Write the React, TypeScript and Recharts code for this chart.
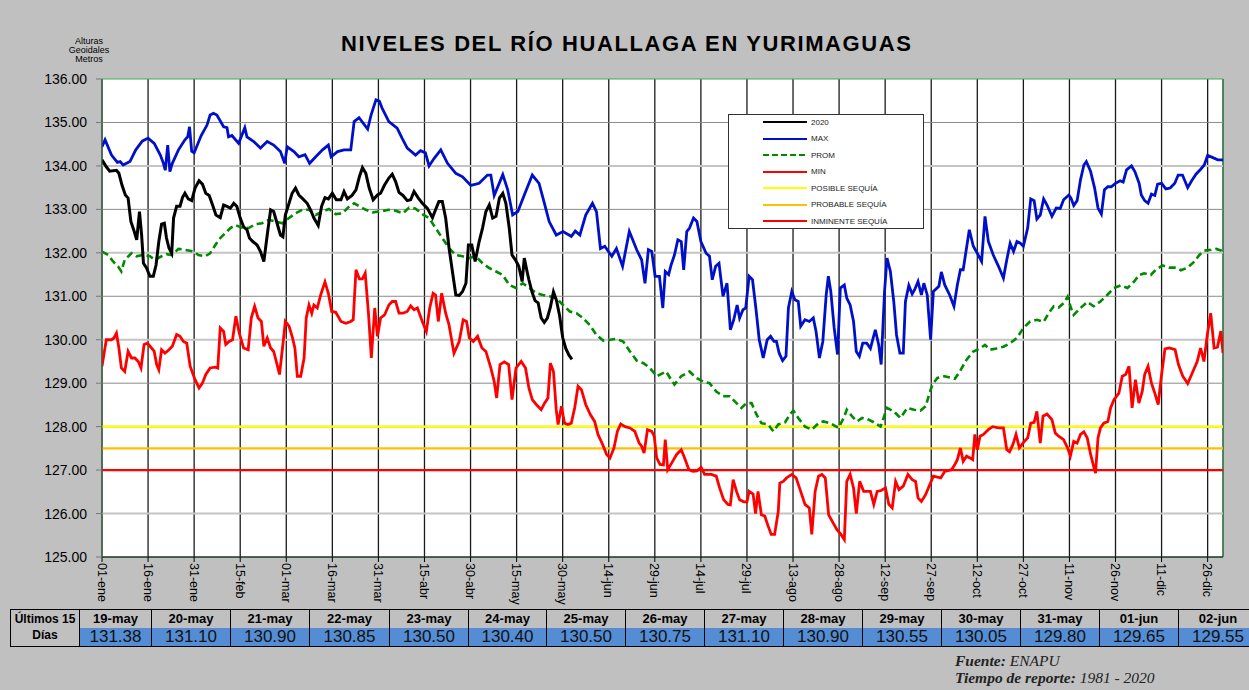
import React from 'react';
import { LineChart, Line, XAxis, YAxis, CartesianGrid, ReferenceLine, ReferenceArea, Legend } from 'recharts';

// eje X: dia del año 2020 (0 = 01-ene)
const X_TICKS = [0, 15, 30, 45, 60, 75, 90, 105, 120, 135, 150, 165, 180, 195, 210, 225, 240, 255, 270, 285, 300, 315, 330, 345, 360];
const X_LABELS = ['01-ene', '16-ene', '31-ene', '15-feb', '01-mar', '16-mar', '31-mar', '15-abr', '30-abr', '15-may', '30-may', '14-jun', '29-jun', '14-jul', '29-jul', '13-ago', '28-ago', '12-sep', '27-sep', '12-oct', '27-oct', '11-nov', '26-nov', '11-dic', '26-dic'];
const Y_TICKS = [125, 126, 127, 128, 129, 130, 131, 132, 133, 134, 135, 136];

// tabla de los ultimos 15 dias
const TABLE_DATES = ['19-may', '20-may', '21-may', '22-may', '23-may', '24-may', '25-may', '26-may', '27-may', '28-may', '29-may', '30-may', '31-may', '01-jun', '02-jun'];
const TABLE_VALUES = [131.38, 131.10, 130.90, 130.85, 130.50, 130.40, 130.50, 130.75, 131.10, 130.90, 130.55, 130.05, 129.80, 129.65, 129.55];
const TABLE_FIRST_DAY = 139;

const THRESHOLDS = [128.0, 127.5, 127.0];

const Y2020: [number, number][] = [
  [0, 134.14], [1.4, 133.98], [2.5, 133.88], [4.7, 133.9], [5.5, 133.83], [6.5, 133.56], [7.6, 133.33], [8.5, 133.26], [9.4, 132.72], [10.5, 132.49],
  [11.3, 132.3], [12.2, 132.95], [12.9, 132.41], [13.5, 131.76], [14.5, 131.65], [15.6, 131.46], [16.7, 131.46], [17.6, 131.72], [18.5, 132.26], [19.4, 132.66],
  [20.3, 132.68], [21.0, 132.34], [21.8, 132.11], [22.7, 131.99], [23.3, 132.8], [24.3, 133.07], [25.4, 133.07], [26.2, 133.27], [27.0, 133.37], [28.1, 133.24],
  [29.2, 133.2], [30.3, 133.49], [31.6, 133.66], [32.7, 133.58], [33.8, 133.37], [34.9, 133.32], [36.0, 133.1], [37.1, 132.87], [38.5, 132.81], [39.6, 133.1],
  [40.7, 133.07], [41.8, 133.03], [42.9, 133.14], [43.9, 133.07], [45.0, 132.8], [46.1, 132.6], [47.2, 132.53], [48.0, 132.34], [49.1, 132.26], [50.5, 132.18],
  [51.6, 132.03], [52.7, 131.8], [53.8, 132.41], [54.9, 132.99], [55.9, 132.95], [57.0, 132.68], [58.1, 132.41], [58.9, 132.37], [59.7, 132.87], [60.9, 133.14],
  [61.9, 133.37], [63.0, 133.49], [64.1, 133.33], [65.4, 133.24], [66.8, 133.14], [67.9, 132.99], [69.0, 132.8], [70.4, 132.63], [71.5, 133.07], [72.6, 133.27],
  [73.7, 133.24], [75.0, 133.37], [76.3, 133.22], [77.8, 133.22], [78.8, 133.41], [79.9, 133.24], [81.4, 133.32], [82.7, 133.45], [83.8, 133.75], [84.8, 133.96],
  [85.9, 133.83], [87.0, 133.49], [88.3, 133.22], [89.7, 133.33], [90.7, 133.37], [92.0, 133.56], [93.4, 133.72], [94.5, 133.81], [95.6, 133.64], [96.7, 133.39],
  [98.0, 133.32], [99.4, 133.2], [100.5, 133.22], [101.6, 133.41], [103.0, 133.26], [104.3, 133.14], [105.9, 133.03], [107.6, 132.81], [108.6, 132.99], [109.7, 133.18],
  [110.8, 133.18], [111.9, 132.8], [113.0, 132.11], [114.1, 131.57], [115.2, 131.03], [116.3, 131.02], [117.4, 131.11], [118.5, 131.3], [119.3, 132.18], [120.4, 132.18],
  [121.5, 131.8], [122.8, 132.26], [123.9, 132.57], [125.0, 132.95], [126.1, 133.1], [127.2, 132.8], [128.3, 132.84], [129.4, 133.26], [130.5, 133.37], [131.5, 133.14],
  [132.6, 132.57], [133.5, 131.95], [134.6, 131.84], [135.7, 131.69], [136.8, 131.34], [137.5, 131.88], [138.4, 131.57],
];

const MAX: [number, number][] = [
  [0, 134.44], [1.0, 134.6], [3.1, 134.25], [5.0, 134.08], [5.9, 134.1], [6.9, 134.02], [9.1, 134.1], [11.0, 134.37], [13.1, 134.57], [15.0, 134.64],
  [17.0, 134.52], [19.0, 134.25], [20.0, 134.06], [20.6, 133.9], [21.4, 134.48], [22.1, 133.87], [22.9, 134.06], [24.9, 134.37], [27.0, 134.6], [27.9, 134.67],
  [28.5, 134.9], [29.2, 134.34], [30.0, 134.3], [32.3, 134.7], [34.2, 134.94], [35.2, 135.17], [36.3, 135.21], [37.4, 135.17], [39.6, 134.9], [40.7, 134.88],
  [41.2, 134.67], [42.3, 134.7], [44.5, 134.52], [46.5, 134.88], [47.2, 134.67], [49.4, 134.56], [51.6, 134.41], [53.8, 134.56], [55.9, 134.48], [58.1, 134.33],
  [59.5, 134.06], [60.3, 134.44], [62.5, 134.33], [64.1, 134.21], [66.1, 134.26], [67.6, 134.06], [69.6, 134.21], [71.8, 134.37], [73.7, 134.48], [74.6, 134.21],
  [76.7, 134.33], [78.8, 134.37], [81.0, 134.37], [82.1, 135.02], [83.7, 135.11], [86.5, 134.85], [87.6, 135.17], [89.2, 135.52], [90.3, 135.49], [91.2, 135.33],
  [93.4, 135.02], [96.1, 134.87], [97.7, 134.64], [99.4, 134.41], [102.1, 134.25], [103.7, 134.35], [105.3, 134.3], [106.5, 134.0], [108.1, 134.17], [110.3, 134.37],
  [112.5, 134.06], [115.2, 133.83], [117.4, 133.75], [120.1, 133.55], [122.8, 133.6], [125.5, 133.79], [126.6, 133.79], [127.7, 133.32], [130.5, 133.8], [132.1, 133.45],
  [133.7, 132.87], [135.4, 132.95], [137.5, 133.33], [140.1, 133.79], [142.3, 133.6], [143.9, 133.18], [145.6, 132.72], [147.9, 132.41], [150.1, 132.49], [152.8, 132.38],
  [154.1, 132.5], [155.6, 132.41], [157.5, 132.87], [159.7, 133.14], [161.0, 132.95], [162.3, 132.1], [163.7, 132.15], [166.0, 131.92], [167.5, 132.1], [169.5, 131.69],
  [171.7, 132.49], [174.1, 132.07], [175.7, 131.84], [176.8, 131.3], [177.9, 132.07], [179.0, 132.03], [180.1, 131.46], [181.5, 131.46], [182.6, 130.73], [183.4, 131.57],
  [184.5, 131.5], [185.3, 131.72], [186.4, 131.95], [187.5, 132.3], [188.6, 132.26], [189.4, 131.61], [190.4, 132.49], [191.3, 132.57], [192.6, 132.8], [193.7, 132.72],
  [195.0, 132.26], [196.7, 131.99], [197.8, 131.92], [198.7, 131.38], [199.8, 131.69], [200.9, 131.76], [202.2, 131.0], [203.5, 131.3], [204.6, 130.23], [205.7, 130.46],
  [206.8, 130.8], [207.6, 130.5], [208.7, 130.69], [209.6, 130.73], [210.7, 131.46], [211.8, 131.38], [212.9, 130.73], [214.0, 130.0], [215.3, 129.58], [216.6, 130.0],
  [217.7, 130.08], [218.8, 129.96], [219.6, 129.96], [220.5, 129.69], [221.6, 129.52], [222.7, 129.62], [223.5, 130.73], [224.6, 131.11], [225.6, 130.92], [226.7, 130.88],
  [227.5, 130.31], [228.9, 130.46], [230.3, 130.42], [231.6, 130.5], [232.5, 130.19], [233.6, 129.58], [234.7, 129.96], [235.8, 131.03], [236.5, 131.46], [237.3, 131.11],
  [238.4, 130.27], [239.5, 129.66], [240.4, 131.19], [241.7, 131.26], [242.5, 130.96], [243.6, 130.8], [244.7, 130.42], [245.6, 129.73], [246.6, 129.62], [247.7, 129.92],
  [249.0, 129.92], [250.2, 129.8], [251.8, 130.23], [252.9, 129.88], [253.7, 129.43], [254.8, 131.11], [255.6, 131.88], [256.7, 131.57], [257.8, 130.88], [258.7, 130.11],
  [259.8, 129.69], [260.9, 129.69], [261.6, 130.88], [262.7, 131.25], [263.8, 131.05], [264.6, 131.15], [265.7, 131.34], [266.8, 131.03], [267.6, 131.3], [268.7, 131.03],
  [269.8, 130.0], [270.7, 131.11], [272.5, 131.23], [273.3, 131.56], [274.4, 131.26], [276.0, 131.03], [277.4, 130.77], [278.5, 131.26], [279.5, 131.61], [280.4, 131.61],
  [282.4, 132.53], [283.7, 132.15], [285.0, 131.99], [286.4, 131.8], [287.5, 132.84], [288.6, 132.26], [290.2, 131.95], [291.9, 131.69], [293.5, 131.42], [294.6, 131.84],
  [295.7, 132.22], [296.8, 132.03], [297.9, 132.26], [299.0, 132.22], [300.0, 132.15], [301.4, 132.57], [302.4, 133.24], [303.5, 133.2], [304.4, 132.78], [305.5, 132.87],
  [306.6, 133.24], [307.7, 133.1], [309.3, 132.84], [310.7, 133.03], [312.0, 133.02], [313.1, 133.22], [314.8, 133.33], [315.5, 133.26], [316.4, 133.09], [317.5, 133.2],
  [318.6, 133.68], [319.7, 134.02], [320.5, 134.1], [321.9, 133.87], [323.2, 133.49], [324.3, 133.03], [325.4, 132.89], [326.4, 133.45], [327.5, 133.52], [328.6, 133.52],
  [330.0, 133.6], [331.5, 133.66], [332.5, 133.63], [333.6, 133.91], [335.2, 134.0], [336.3, 133.87], [337.7, 133.6], [338.4, 133.33], [339.5, 133.2], [340.6, 133.14],
  [341.7, 133.35], [342.8, 133.32], [343.7, 133.58], [345.0, 133.6], [346.4, 133.47], [347.8, 133.49], [349.3, 133.6], [350.4, 133.79], [351.8, 133.79], [353.5, 133.5],
  [354.8, 133.66], [356.2, 133.81], [357.8, 133.93], [358.9, 134.02], [360.0, 134.24], [361.7, 134.19], [363.3, 134.14], [364.9, 134.14], [365.0, 134.11],
];

const PROM: [number, number][] = [
  [0, 132.03], [2.0, 131.95], [3.6, 131.8], [5.2, 131.69], [6.3, 131.57], [7.4, 131.84], [9.6, 131.99], [11.2, 131.92], [13.4, 131.95], [15.6, 131.92],
  [17.2, 131.84], [19.4, 131.92], [21.0, 131.97], [22.7, 131.95], [24.9, 132.09], [27.0, 132.07], [29.8, 132.03], [31.4, 131.95], [33.6, 131.92], [35.2, 131.99],
  [36.9, 132.18], [38.5, 132.34], [40.1, 132.45], [41.8, 132.57], [43.4, 132.64], [45.6, 132.58], [47.8, 132.57], [49.9, 132.66], [52.1, 132.68], [54.3, 132.76],
  [56.5, 132.72], [58.7, 132.68], [60.9, 132.8], [63.0, 132.91], [65.2, 132.99], [67.4, 132.99], [69.6, 132.87], [71.8, 132.95], [73.9, 133.01], [76.1, 132.89],
  [78.3, 132.91], [80.5, 133.07], [82.1, 133.14], [83.8, 133.07], [85.9, 132.99], [88.1, 132.93], [90.3, 132.95], [93.4, 132.99], [95.6, 132.97], [98.0, 132.91],
  [100.0, 133.04], [102.0, 133.02], [104.3, 132.89], [106.5, 132.8], [108.6, 132.57], [110.8, 132.34], [113.0, 132.11], [115.2, 131.95], [117.4, 131.92], [119.6, 131.88],
  [121.7, 131.92], [123.9, 131.76], [126.1, 131.65], [128.3, 131.57], [130.5, 131.49], [132.6, 131.26], [134.8, 131.19], [137.0, 131.3], [139.2, 131.19], [141.4, 131.07],
  [143.5, 131.03], [145.7, 131.0], [147.9, 130.96], [150.1, 130.8], [152.3, 130.65], [154.5, 130.61], [156.6, 130.5], [158.8, 130.34], [161.0, 130.11], [163.2, 129.98],
  [165.4, 130.0], [167.5, 130.02], [169.7, 129.96], [171.9, 129.73], [174.1, 129.52], [176.3, 129.46], [178.4, 129.35], [180.6, 129.16], [182.0, 129.21], [183.7, 129.27],
  [185.3, 129.08], [186.4, 128.97], [188.6, 129.16], [191.3, 129.27], [193.5, 129.12], [195.7, 129.04], [197.8, 129.0], [200.0, 128.81], [202.2, 128.7], [204.4, 128.7],
  [206.6, 128.54], [208.2, 128.43], [209.8, 128.54], [211.5, 128.54], [213.1, 128.28], [214.7, 128.08], [216.9, 128.05], [218.6, 127.89], [220.2, 128.05], [222.4, 128.1],
  [224.0, 128.28], [225.1, 128.37], [226.7, 128.2], [228.9, 128.0], [231.1, 127.93], [233.3, 128.08], [234.9, 128.12], [237.1, 128.08], [239.8, 127.97], [241.5, 128.2],
  [242.5, 128.39], [244.2, 128.24], [245.8, 128.12], [247.5, 128.2], [249.1, 128.18], [251.3, 128.1], [253.5, 128.0], [255.6, 128.43], [257.8, 128.35], [260.0, 128.2],
  [262.2, 128.43], [264.4, 128.39], [266.5, 128.37], [268.2, 128.47], [269.3, 128.74], [270.4, 128.97], [272.0, 129.12], [274.4, 129.16], [277.7, 129.1], [279.3, 129.27],
  [281.5, 129.54], [283.7, 129.73], [285.9, 129.8], [287.5, 129.88], [289.1, 129.77], [291.3, 129.8], [293.5, 129.84], [295.7, 129.92], [297.9, 130.04], [300.0, 130.27],
  [302.2, 130.42], [304.4, 130.46], [306.6, 130.41], [308.2, 130.61], [309.9, 130.77], [311.5, 130.74], [313.1, 130.84], [314.4, 130.99], [315.5, 130.73], [316.4, 130.57],
  [318.6, 130.73], [320.8, 130.87], [322.9, 130.77], [325.1, 130.88], [327.3, 131.03], [329.5, 131.19], [331.7, 131.25], [333.9, 131.19], [336.1, 131.34], [337.7, 131.49],
  [339.3, 131.53], [341.5, 131.49], [343.1, 131.61], [345.3, 131.71], [347.5, 131.66], [349.7, 131.66], [351.3, 131.6], [353.5, 131.66], [355.7, 131.8], [357.3, 131.95],
  [358.9, 132.05], [361.1, 132.07], [362.8, 132.09], [364.4, 132.05], [365.0, 132.0],
];

const MIN: [number, number][] = [
  [0, 129.39], [1.4, 130.0], [3.1, 130.0], [3.9, 130.04], [4.7, 130.15], [5.5, 129.81], [6.3, 129.35], [7.4, 129.27], [8.5, 129.73], [9.6, 129.58],
  [10.7, 129.58], [11.8, 129.5], [12.7, 129.35], [13.7, 129.89], [14.8, 129.92], [16.1, 129.81], [17.0, 129.73], [17.8, 129.43], [18.5, 129.31], [19.4, 129.77],
  [20.5, 129.69], [21.8, 129.77], [22.9, 129.85], [24.3, 130.12], [25.4, 130.08], [26.5, 129.96], [27.6, 129.92], [28.7, 129.39], [30.3, 129.08], [31.6, 128.89],
  [32.7, 129.0], [33.8, 129.2], [35.2, 129.35], [36.9, 129.37], [37.7, 129.35], [38.5, 130.27], [39.6, 130.19], [40.3, 129.89], [41.4, 129.96], [42.5, 130.0],
  [43.6, 130.54], [44.7, 130.15], [46.1, 129.81], [47.6, 129.77], [48.6, 130.5], [49.7, 130.77], [50.8, 130.5], [51.9, 130.42], [52.7, 129.85], [53.8, 130.04],
  [54.9, 129.81], [55.9, 129.73], [57.0, 129.43], [57.8, 129.2], [58.9, 129.89], [59.7, 130.42], [60.9, 130.31], [61.9, 130.08], [62.8, 129.81], [63.6, 129.16],
  [64.7, 129.16], [65.8, 129.58], [66.5, 130.5], [67.4, 130.8], [68.3, 130.61], [69.0, 130.8], [70.1, 130.73], [71.2, 131.03], [72.6, 131.33], [73.7, 131.07],
  [74.8, 130.65], [76.1, 130.63], [77.8, 130.42], [79.4, 130.38], [81.0, 130.42], [81.8, 130.46], [82.7, 131.61], [83.8, 131.4], [84.8, 131.4], [85.7, 131.53],
  [86.8, 130.57], [87.7, 129.58], [88.8, 130.73], [89.7, 130.08], [90.7, 130.5], [92.0, 130.57], [93.4, 130.8], [94.5, 130.88], [95.6, 130.88], [96.7, 130.61],
  [98.0, 130.61], [99.4, 130.65], [100.5, 130.78], [101.6, 130.69], [102.7, 130.73], [104.3, 130.42], [105.6, 130.19], [106.7, 130.73], [107.8, 131.07], [108.6, 131.03],
  [109.5, 130.42], [110.6, 131.07], [111.9, 130.61], [113.0, 130.34], [114.6, 129.69], [116.3, 129.96], [117.6, 130.46], [118.7, 130.42], [119.6, 130.04], [120.9, 129.96],
  [122.3, 130.08], [123.7, 129.81], [125.0, 129.73], [126.6, 129.35], [127.7, 129.04], [128.5, 128.66], [129.6, 129.43], [131.0, 129.49], [132.4, 129.43], [133.5, 128.62],
  [134.8, 129.35], [136.5, 129.5], [137.9, 129.35], [139.0, 128.89], [140.1, 128.62], [141.4, 128.51], [143.0, 128.39], [144.1, 128.54], [145.2, 128.66], [146.0, 129.46],
  [147.0, 129.27], [147.9, 128.39], [148.5, 128.05], [149.6, 128.47], [150.6, 128.08], [151.7, 128.05], [152.8, 128.08], [153.9, 128.43], [155.0, 128.93], [156.1, 128.85],
  [157.5, 128.51], [159.0, 128.28], [160.4, 128.12], [161.5, 127.82], [163.0, 127.59], [164.3, 127.36], [165.4, 127.28], [166.7, 127.51], [167.8, 127.89], [168.9, 128.06],
  [170.3, 128.0], [171.9, 127.97], [173.5, 127.89], [174.9, 127.62], [175.7, 127.55], [176.5, 127.39], [177.6, 127.93], [179.0, 127.89], [179.8, 127.78], [180.6, 127.28],
  [181.7, 127.13], [182.8, 127.12], [183.4, 127.7], [184.2, 127.01], [185.8, 127.2], [187.1, 127.36], [188.6, 127.47], [189.7, 127.28], [191.1, 127.01], [192.4, 126.97],
  [193.7, 126.98], [195.1, 127.06], [196.2, 126.9], [198.4, 126.9], [200.0, 126.86], [201.1, 126.59], [202.4, 126.32], [203.8, 126.21], [204.6, 126.2], [205.5, 126.78],
  [206.6, 126.51], [207.6, 126.32], [209.0, 126.27], [210.0, 126.27], [210.7, 126.51], [212.0, 126.45], [212.8, 126.0], [213.6, 126.51], [214.7, 125.97], [215.8, 125.94],
  [216.9, 125.71], [217.9, 125.52], [219.0, 125.52], [220.2, 126.05], [220.7, 126.7], [221.8, 126.74], [222.9, 126.82], [224.6, 126.9], [226.0, 126.82], [227.3, 126.55],
  [228.9, 126.21], [230.3, 126.13], [231.1, 125.52], [232.2, 126.51], [233.3, 126.86], [234.4, 126.9], [235.5, 126.82], [236.6, 125.97], [238.0, 125.79], [239.3, 125.63],
  [240.6, 125.52], [241.7, 125.4], [242.5, 126.74], [243.6, 126.9], [244.7, 126.59], [245.6, 126.0], [246.7, 126.74], [248.0, 126.51], [250.2, 126.51], [251.3, 126.21],
  [252.4, 126.51], [253.7, 126.53], [255.1, 126.59], [256.2, 126.21], [257.3, 126.13], [258.4, 126.74], [259.5, 126.55], [260.9, 126.63], [262.4, 126.9], [263.8, 126.78],
  [264.9, 126.74], [265.7, 126.36], [266.8, 126.28], [268.2, 126.44], [269.3, 126.63], [270.7, 126.86], [272.0, 126.84], [273.1, 126.82], [274.4, 126.97], [276.6, 127.01],
  [277.7, 127.13], [278.5, 127.24], [279.5, 127.51], [280.4, 127.2], [281.5, 127.32], [282.6, 127.28], [283.5, 127.24], [284.2, 127.82], [285.0, 127.47], [285.9, 127.78],
  [287.0, 127.82], [288.6, 127.93], [290.0, 128.0], [291.9, 127.97], [293.5, 127.97], [294.6, 127.47], [295.5, 127.42], [296.6, 127.59], [297.6, 127.82], [298.7, 127.51],
  [300.3, 127.66], [301.4, 127.74], [302.4, 128.08], [303.5, 128.1], [304.4, 128.35], [305.5, 127.62], [306.4, 128.24], [307.7, 128.29], [309.3, 128.16], [310.4, 127.85],
  [311.5, 127.78], [313.1, 127.7], [314.4, 127.51], [315.3, 127.32], [316.4, 127.66], [317.5, 127.62], [318.6, 127.82], [319.7, 127.88], [320.8, 127.74], [321.9, 127.36],
  [323.0, 127.05], [323.5, 126.93], [324.3, 127.74], [325.1, 127.97], [326.2, 128.08], [327.5, 128.12], [328.4, 128.43], [329.5, 128.62], [331.1, 128.77], [332.2, 129.16],
  [333.3, 129.2], [334.4, 129.39], [335.4, 128.43], [336.5, 129.08], [337.6, 128.54], [338.7, 128.81], [339.5, 129.2], [340.6, 129.39], [341.7, 129.0], [342.8, 128.77],
  [343.9, 128.51], [345.0, 129.2], [346.1, 129.79], [347.5, 129.81], [349.4, 129.77], [350.5, 129.43], [351.9, 129.16], [353.5, 128.99], [355.2, 129.27], [356.6, 129.5],
  [357.7, 129.81], [358.8, 129.5], [359.9, 130.12], [361.0, 130.61], [362.1, 129.81], [363.2, 129.83], [364.3, 130.2], [365.0, 129.69],
];

const SERIES = [
  { name: '2020', color: '#000000', dash: undefined as string | undefined },
  { name: 'MAX', color: '#0010c8', dash: undefined },
  { name: 'PROM', color: '#008a00', dash: '7 4' },
  { name: 'MIN', color: '#ff0000', dash: undefined },
  { name: 'POSIBLE SEQUÍA', color: '#ffff00', dash: undefined },
  { name: 'PROBABLE SEQUÍA', color: '#ffc000', dash: undefined },
  { name: 'INMINENTE SEQUÍA', color: '#ff0000', dash: undefined },
];

const toPts = (arr: [number, number][]) => arr.map(([day, v]) => ({ day, v }));

const data2020 = toPts(Y2020).concat(TABLE_VALUES.map((v, i) => ({ day: TABLE_FIRST_DAY + i, v })));
const flat = (v: number) => [{ day: 0, v }, { day: 365, v }];

const FONT = '"Liberation Sans", Arial, sans-serif';

const XTick = (props: any) => {
  const { x, y, payload } = props;
  const label = X_LABELS[X_TICKS.indexOf(payload.value)] ?? '';
  return (
    <text x={x} y={y} dy="0.36em" transform={`rotate(90, ${x}, ${y})`} textAnchor="start" fontSize={12.5} fontFamily={FONT} fill="#000">
      {label}
    </text>
  );
};

const LegendBox = () => (
  <div style={{ width: 196, height: 115, border: '1px solid #333', background: '#fff', position: 'relative', boxSizing: 'border-box', fontFamily: FONT }}>
    {SERIES.map((s, i) => (
      <div key={s.name} style={{ position: 'absolute', left: 0, top: 1 + i * 16.5, height: 12, display: 'flex', alignItems: 'center' }}>
        <svg width={80} height={12}>
          <line x1={34} x2={78} y1={6} y2={6} stroke={s.color} strokeWidth={2} strokeDasharray={s.dash ? '6 3' : undefined} />
        </svg>
        <span style={{ fontSize: 8, marginLeft: 2, color: '#222', whiteSpace: 'nowrap' }}>{s.name}</span>
      </div>
    ))}
  </div>
);

const COL_EDGES = [80, 152, 231, 310, 390, 469, 547, 626, 705, 784, 863, 942, 1021, 1100, 1179, 1258];

export default function App() {
  return (
    <div style={{ position: 'absolute', left: 0, top: 0, width: 1249, height: 690, background: '#c0c0c0', overflow: 'hidden', fontFamily: FONT }}>
      <svg width={1249} height={70} style={{ position: 'absolute', left: 0, top: 0 }}>
        <text x={626} y={51} textAnchor="middle" fontSize={22} fontWeight="bold" fontFamily={FONT} textLength={570} lengthAdjust="spacing" fill="#000">
          NIVELES DEL RÍO HUALLAGA EN YURIMAGUAS
        </text>
      </svg>
      <div style={{ position: 'absolute', left: 50, top: 37, width: 78, textAlign: 'center', fontSize: 9, lineHeight: '9px', color: '#000' }}>
        Alturas<br />Geoidales<br />Metros
      </div>

      <div style={{ position: 'absolute', left: 0, top: 0 }}>
        <LineChart width={1249} height={606} margin={{ top: 79, right: 26, bottom: 0, left: 42 }}>
          <CartesianGrid fill="#ffffff" horizontal={false} stroke="#1a1a1a" strokeWidth={1.3} />
          <XAxis
            dataKey="day"
            type="number"
            domain={[0, 365]}
            ticks={X_TICKS}
            interval={0}
            allowDataOverflow
            tick={<XTick />}
            tickSize={5}
            tickMargin={1}
            height={49}
            axisLine={{ stroke: '#000' }}
            tickLine={{ stroke: '#000' }}
          />
          <YAxis
            type="number"
            domain={[125, 136]}
            ticks={Y_TICKS}
            interval={0}
            width={60}
            tickSize={6}
            tickMargin={9}
            tickFormatter={(v: number) => v.toFixed(2)}
            tick={{ fontSize: 14, fill: '#000', fontFamily: FONT }}
            axisLine={{ stroke: '#555' }}
            tickLine={{ stroke: '#777' }}
          />
          {Y_TICKS.slice(1, -1).map((t) => (
            <ReferenceLine key={t} y={t} stroke={t % 2 === 0 ? '#c4c4c4' : '#8a8a8a'} strokeWidth={t % 2 === 0 ? 2 : 1} />
          ))}
          <Legend content={<LegendBox />} layout="vertical" align="center" verticalAlign="middle" wrapperStyle={{ left: 728, top: 114, width: 196 }} />
          {THRESHOLDS.map((v, i) => (
            <Line
              key={SERIES[4 + i].name}
              name={SERIES[4 + i].name}
              data={flat(v)}
              dataKey="v"
              stroke={SERIES[4 + i].color}
              strokeWidth={2.2}
              dot={false}
              isAnimationActive={false}
            />
          ))}
          <Line name="MIN" data={toPts(MIN)} dataKey="v" stroke={SERIES[3].color} strokeWidth={2.8} dot={false} isAnimationActive={false} />
          <Line name="PROM" data={toPts(PROM)} dataKey="v" stroke={SERIES[2].color} strokeWidth={2.6} strokeDasharray="7 4" dot={false} isAnimationActive={false} />
          <Line name="MAX" data={toPts(MAX)} dataKey="v" stroke={SERIES[1].color} strokeWidth={2.8} dot={false} isAnimationActive={false} />
          <Line name="2020" data={data2020} dataKey="v" stroke={SERIES[0].color} strokeWidth={3} dot={false} isAnimationActive={false} />
          <ReferenceArea x1={0} x2={365} y1={125} y2={136} fill="none" stroke="#3fae5a" strokeWidth={1} />
        </LineChart>
      </div>

      {/* tabla ultimos 15 dias */}
      <div style={{ position: 'absolute', left: 10, top: 609, width: 70, height: 38, border: '1.5px solid #000', boxSizing: 'border-box', fontSize: 12, fontWeight: 'bold', textAlign: 'center', lineHeight: '16px', paddingTop: 1 }}>
        Últimos 15<br />Días
      </div>
      {TABLE_DATES.map((d, i) => {
        const left = COL_EDGES[i];
        const w = COL_EDGES[i + 1] - left;
        return (
          <React.Fragment key={d}>
            <div style={{ position: 'absolute', left, top: 609, width: w, height: 20, border: '1.5px solid #000', borderLeft: 'none', boxSizing: 'border-box', fontSize: 13, fontWeight: 'bold', textAlign: 'center', lineHeight: '17px' }}>
              {d}
            </div>
            <div style={{ position: 'absolute', left, top: 628, width: w, height: 19, background: '#548dd4', border: '1.5px solid #000', borderLeft: 'none', borderTop: 'none', boxSizing: 'border-box', fontSize: 17, textAlign: 'center', lineHeight: '18px', color: '#111' }}>
              {TABLE_VALUES[i].toFixed(2)}
            </div>
          </React.Fragment>
        );
      })}
      <div style={{ position: 'absolute', left: 955, top: 652, fontFamily: '"Liberation Serif", "Times New Roman", serif', fontStyle: 'italic', fontSize: 15.5, lineHeight: '17px', color: '#222' }}>
        <div><b>Fuente:</b> ENAPU</div>
        <div><b>Tiempo de reporte:</b> 1981 - 2020</div>
      </div>
    </div>
  );
}
